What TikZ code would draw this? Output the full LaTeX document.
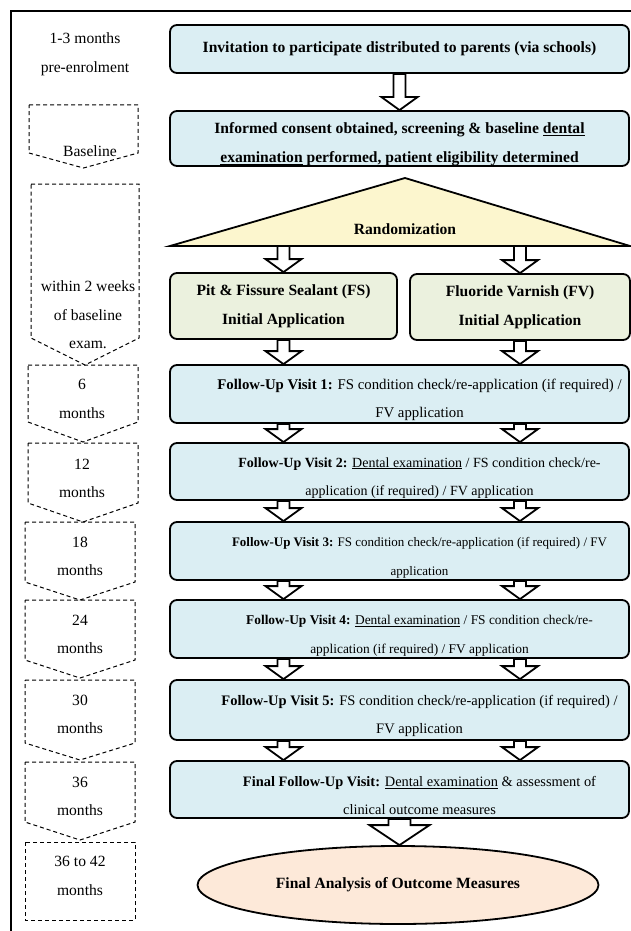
\documentclass[tikz,border=0pt]{standalone}
\usepackage{fontspec}
\setmainfont{Liberation Serif}
\usetikzlibrary{shapes.geometric,calc}

\definecolor{visitblue}{RGB}{219,238,243}
\definecolor{armgreen}{RGB}{235,241,222}
\definecolor{randyellow}{RGB}{252,246,206}
\definecolor{endpeach}{RGB}{253,233,217}

% hollow block arrow: column node, start point, target node
\newcommand{\fatarrow}[3]{%
  \draw[hollow] let \p1=(#1), \p2=(#2), \p3=(#3.north) in
    (\x1-6pt,\y2) -- (\x1+6pt,\y2) -- (\x1+6pt,\y3+13pt) -- (\x1+18pt,\y3+13pt)
    -- (\x1,\y3) -- (\x1-18pt,\y3+13pt) -- (\x1-6pt,\y3+13pt) -- cycle;}

% dashed time marker: left, right, top, side bottom, tip
\newcommand{\period}[5]{%
  \draw[timeline] (#1,#3) -- (#2,#3) -- (#2,#4) -- ({(#1+#2)/2},#5) -- (#1,#4) -- cycle;}

% nudge a line of visit text to the right
\newcommand{\sh}{\hspace*{40pt}}
\newcommand{\fsz}[1]{\fontsize{#1}{28.5}\selectfont}

\begin{document}
\begin{tikzpicture}[x=1pt,y=-1pt]
    \tikzstyle{stage}=[draw=black,line width=1.8pt,rounded corners=7pt,fill=visitblue,
        minimum width=459pt,align=center,inner sep=2pt,font=\fsz{15.6}]
    \tikzstyle{headbox}=[stage,font=\fsz{15.6}\bfseries]
    \tikzstyle{arm}=[headbox,fill=armgreen,minimum height=66pt]
    \tikzstyle{drop}=[inner ysep=0pt,execute at begin node={\rule{0pt}{51pt}}]
    \tikzstyle{hollow}=[draw=black,fill=white,line width=1.8pt,line join=miter]
    \tikzstyle{timeline}=[draw=black,line width=1pt,dash pattern=on 4pt off 3pt]
    \tikzstyle{when}=[align=center,font=\fsz{15.6}]

    \useasboundingbox (0,0) rectangle (631,931);
    \draw[line width=1.3pt] (11,931) -- (11,11) -- (631,11);

    % study stages
    \node[headbox,minimum height=48pt] at (399.5,49) (invite)
        {Invitation to participate distributed to parents (via schools)};
    \node[headbox,drop,minimum height=55pt] at (399.5,138.5) (consent)
        {Informed consent obtained, screening \& baseline \underline{dental}\\
         \underline{examination} performed, patient eligibility determined};

    \coordinate (apex) at (405,178);
    \coordinate (baseL) at (170,246);
    \coordinate (baseR) at (630,246);
    \draw[line width=1.8pt,fill=randyellow] (baseL) -- (apex) -- (baseR) -- cycle;
    \node[font=\fsz{15.6}\bfseries] at (405,229) (rand) {Randomization};

    \node[arm,minimum width=227pt] at (283.5,306) (fs) {Pit \& Fissure Sealant (FS)\\Initial Application};
    \node[arm,minimum width=220pt] at (520,307) (fv) {Fluoride Varnish (FV)\\Initial Application};

    \node[stage,drop,minimum height=58pt,font=\fsz{14.8}] at (399.5,394) (fu1)
        {\sh\textbf{Follow-Up Visit 1:} FS condition check/re-application (if required) /\\\sh FV application};
    \node[stage,drop,minimum height=57pt,font=\fsz{14}] at (399.5,471.5) (fu2)
        {\sh\textbf{Follow-Up Visit 2:} \underline{Dental examination} / FS condition check/re-\\\sh application (if required) / FV application};
    \node[stage,drop,minimum height=58pt,font=\fsz{13}] at (399.5,551) (fu3)
        {\sh\textbf{Follow-Up Visit 3:} FS condition check/re-application (if required) / FV\\\sh application};
    \node[stage,drop,minimum height=58pt,font=\fsz{13.4}] at (399.5,629) (fu4)
        {\sh\textbf{Follow-Up Visit 4:} \underline{Dental examination} / FS condition check/re-\\\sh application (if required) / FV application};
    \node[stage,drop,minimum height=60pt,font=\fsz{14.5}] at (399.5,710) (fu5)
        {\sh\textbf{Follow-Up Visit 5:} FS condition check/re-application (if required) /\\\sh FV application};
    \node[stage,drop,minimum height=57pt,font=\fsz{14.4}] at (399.5,789.5) (final)
        {\sh\textbf{Final Follow-Up Visit:} \underline{Dental examination} \& assessment of\\\sh clinical outcome measures};

    \node[ellipse,draw=black,line width=1.8pt,fill=endpeach,minimum width=401pt,minimum height=78pt,
        font=\fsz{15.6}\bfseries] at (398,885) (outcome) {Final Analysis of Outcome Measures};

    % block arrows
    \fatarrow{invite}{invite.south}{consent}
    \fatarrow{fs}{baseL}{fs}
    \fatarrow{fv}{baseL}{fv}
    \fatarrow{fs}{fs.south}{fu1}
    \fatarrow{fv}{fv.south}{fu1}
    \foreach \a/\b in {fu1/fu2,fu2/fu3,fu3/fu4,fu4/fu5,fu5/final} {
        \fatarrow{fs}{\a.south}{\b}
        \fatarrow{fv}{\a.south}{\b}
    }
    \draw[hollow] let \p1=(final.south), \p2=(outcome.north) in
        (\x1-11pt,\y1) -- (\x1+11pt,\y1) -- (\x1+11pt,\y2+20pt) -- (\x1+30pt,\y2+20pt)
        -- (\x1,\y2) -- (\x1-30pt,\y2+20pt) -- (\x1-11pt,\y2+20pt) -- cycle;

    % time line
    \period{29}{138}{105}{153}{168}
    \period{31}{139}{184}{338}{365}
    \period{28}{138}{365}{422}{442}
    \period{28}{138}{443}{503}{522}
    \period{25}{135}{522}{582}{600}
    \period{25}{135}{600}{660}{678}
    \period{25}{135}{680}{743}{760}
    \period{25}{135}{762}{822}{840}
    \draw[timeline] (25,842) rectangle (135,920);

    \node[when] at (85,54) (pre) {1-3 months\\pre-enrolment};
    \node[when] at (90,151) (base) {Baseline};
    \node[when] at (88,315) (twowk) {within 2 weeks\\of baseline\\exam.};
    \node[when] at (82,399) (m6) {6\\months};
    \node[when] at (82,478.5) (m12) {12\\months};
    \node[when] at (80,556.5) (m18) {18\\months};
    \node[when] at (80,634.5) (m24) {24\\months};
    \node[when] at (80,714.5) (m30) {30\\months};
    \node[when] at (80,796.5) (m36) {36\\months};
    \node[when] at (80,876) (m42) {36 to 42\\months};
\end{tikzpicture}
\end{document}
